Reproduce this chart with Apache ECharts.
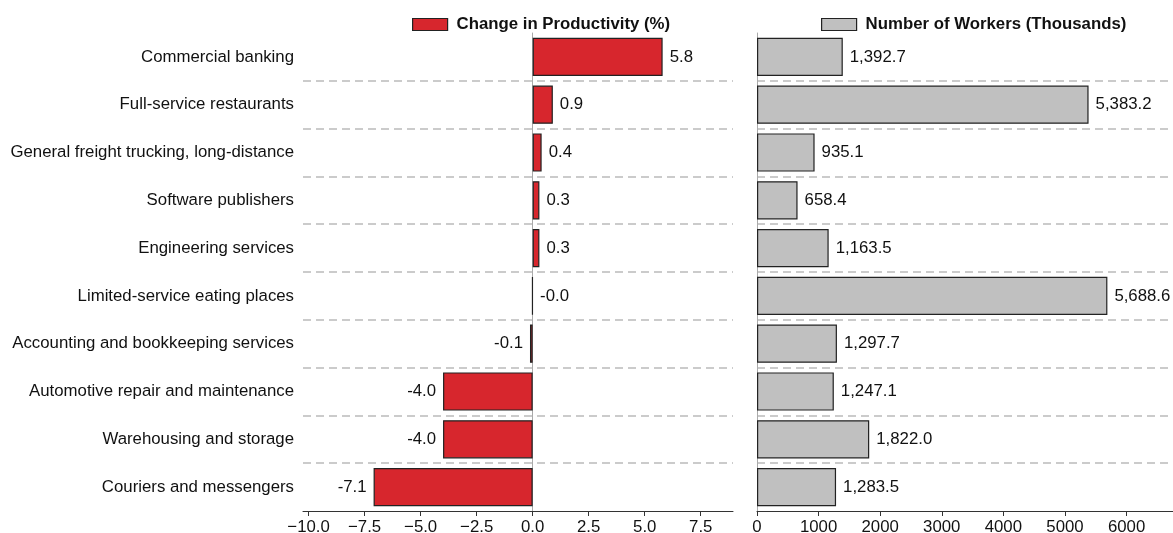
<!DOCTYPE html>
<html><head><meta charset="utf-8">
<script src="https://cdn.jsdelivr.net/npm/echarts@6/dist/echarts.min.js"></script>
<style>html,body{margin:0;padding:0;background:#fff}#c{width:1173px;height:533px}</style>
</head><body><div id="c"></div>
<script>
const categories = ["Commercial banking","Full-service restaurants","General freight trucking, long-distance","Software publishers","Engineering services","Limited-service eating places","Accounting and bookkeeping services","Automotive repair and maintenance","Warehousing and storage","Couriers and messengers"];
const productivity = [5.8, 0.9, 0.4, 0.3, 0.3, -0.02, -0.12, -4.0, -4.0, -7.1];
const workers = [1392.7, 5383.2, 935.1, 658.4, 1163.5, 5688.6, 1297.7, 1247.1, 1822.0, 1283.5];
const leftTicks = [-10, -7.5, -5, -2.5, 0, 2.5, 5, 7.5];
const rightTicks = [0, 1000, 2000, 3000, 4000, 5000, 6000];

const FONT = '"Liberation Sans", Arial, sans-serif';
const FS = 16.8;
const chart = echarts.init(document.getElementById('c'));
const split = {show:true, showMinLine:false, showMaxLine:false, lineStyle:{type:[8,5], color:'#bbbbbb', width:1.5}};
const axLab = {color:'#111', fontSize:FS, fontFamily:FONT};
const legText = {fontWeight:'bold', fontSize:FS, color:'#111', fontFamily:FONT, padding:[0,0,0,4]};
chart.setOption({
  animation:false,
  textStyle:{fontFamily:FONT},
  legend:[
    {left:407, top:11, icon:'rect', itemWidth:35, itemHeight:12, data:['Change in Productivity (%)'],
     textStyle:legText, itemStyle:{borderColor:'#222', borderWidth:1.2}},
    {left:816, top:11, icon:'rect', itemWidth:35, itemHeight:12, data:['Number of Workers (Thousands)'],
     textStyle:legText, itemStyle:{borderColor:'#222', borderWidth:1.2}}
  ],
  grid:[
    {left:303, top:33, width:430, height:478, containLabel:false, outerBoundsMode:'none'},
    {left:757, top:33, width:416, height:478, containLabel:false, outerBoundsMode:'none'}
  ],
  xAxis:[
    {type:'value', gridIndex:0, min:-10.25, max:8.94, splitLine:{show:false},
     axisLine:{show:true, lineStyle:{color:'#333'}},
     axisTick:{show:true, customValues:leftTicks, length:5, lineStyle:{color:'#333'}},
     axisLabel:Object.assign({customValues:leftTicks, margin:8,
       formatter:v=>(v<0?'\u2212':'')+Math.abs(v).toFixed(1)}, axLab)},
    {type:'value', gridIndex:1, min:0, max:6754, splitLine:{show:false},
     axisLine:{show:true, lineStyle:{color:'#333'}},
     axisTick:{show:true, customValues:rightTicks, length:5, lineStyle:{color:'#333'}},
     axisLabel:Object.assign({customValues:rightTicks, margin:8, formatter:v=>String(v)}, axLab)}
  ],
  yAxis:[
    {type:'category', gridIndex:0, data:categories, inverse:true,
     axisLine:{show:true, onZero:true, lineStyle:{color:'#aaaaaa'}},
     axisTick:{show:false},
     axisLabel:{show:true, color:'#111', fontSize:FS, fontFamily:FONT, margin:9},
     splitLine:split},
    {type:'category', gridIndex:1, data:categories, inverse:true,
     axisLine:{show:true, onZero:true, lineStyle:{color:'#aaaaaa'}},
     axisTick:{show:false}, axisLabel:{show:false},
     splitLine:split}
  ],
  series:[
    {name:'Change in Productivity (%)', type:'bar', xAxisIndex:0, yAxisIndex:0, barWidth:'80%',
     itemStyle:{color:'#d7262d', borderColor:'#222', borderWidth:1.2},
     data:productivity.map(v=>({value:v, label:{position: Number(v.toFixed(1))<0 ? 'left':'right'}})),
     label:{show:true, distance:7, color:'#111', fontSize:FS, fontFamily:FONT,
       formatter:p=>p.value.toFixed(1)}},
    {name:'Number of Workers (Thousands)', type:'bar', xAxisIndex:1, yAxisIndex:1, barWidth:'80%',
     itemStyle:{color:'#c0c0c0', borderColor:'#222', borderWidth:1.2},
     data:workers,
     label:{show:true, position:'right', distance:7, color:'#111', fontSize:FS, fontFamily:FONT,
       formatter:p=>p.value.toLocaleString('en-US',{minimumFractionDigits:1, maximumFractionDigits:1})}}
  ]
});
</script></body></html>
